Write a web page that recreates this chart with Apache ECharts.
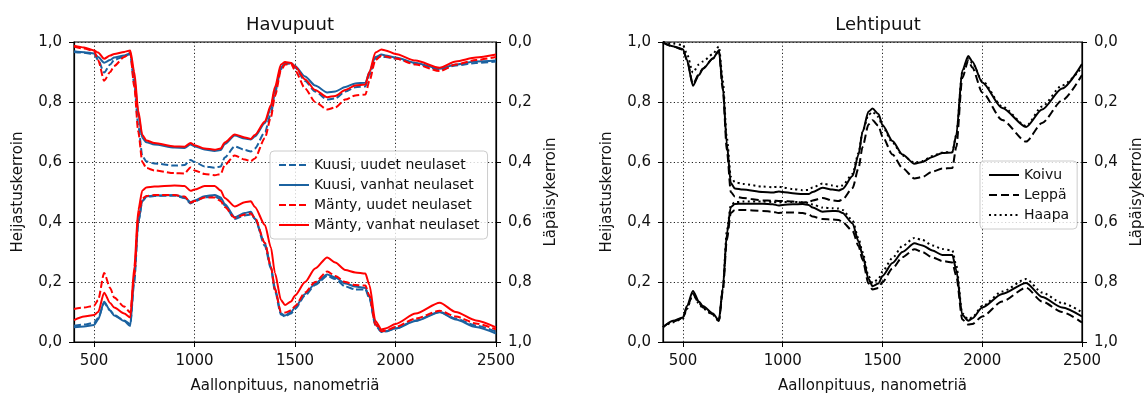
<!DOCTYPE html>
<html><head><meta charset="utf-8">
<script src="https://cdn.jsdelivr.net/npm/echarts@6/dist/echarts.min.js"></script>
<style>html,body{margin:0;padding:0;background:#fff}#c{width:1146px;height:399px}</style>
</head><body><div id="c"></div><script>
// Wavelengths (nm)
const WL = [400,450,500,520,550,580,600,650,680,700,720,740,760,800,900,950,980,1000,1050,1100,1130,1150,1200,1250,1280,1300,1350,1380,1400,1430,1450,1480,1500,1550,1600,1660,1700,1750,1800,1850,1870,1900,1930,1950,2000,2100,2220,2300,2400,2500];
const X_TICKS = [500,1000,1500,2000,2500];
const TITLES = ['Havupuut','Lehtipuut'];
const X_NAME = 'Aallonpituus, nanometriä';
const Y_NAME_L = 'Heijastuskerroin';
const Y_NAME_R = 'Läpäisykerroin';

// Havupuut (conifers)
const HAVU_NAMES = ['Kuusi, uudet neulaset','Kuusi, vanhat neulaset','Mänty, uudet neulaset','Mänty, vanhat neulaset'];
// reflectance
const KU_R = [0.054,0.058,0.064,0.08,0.13,0.105,0.09,0.072,0.06,0.2,0.4,0.47,0.483,0.487,0.488,0.48,0.462,0.468,0.482,0.485,0.476,0.455,0.41,0.422,0.425,0.412,0.32,0.245,0.17,0.092,0.085,0.095,0.11,0.155,0.19,0.22,0.21,0.185,0.175,0.175,0.145,0.055,0.033,0.035,0.045,0.072,0.1,0.078,0.055,0.035];
const KV_R = [0.049,0.052,0.057,0.075,0.134,0.105,0.088,0.07,0.053,0.22,0.4,0.47,0.485,0.488,0.49,0.482,0.466,0.472,0.486,0.49,0.482,0.46,0.416,0.43,0.434,0.41,0.33,0.25,0.18,0.095,0.088,0.1,0.115,0.16,0.195,0.225,0.215,0.195,0.185,0.18,0.15,0.06,0.035,0.036,0.045,0.07,0.099,0.075,0.05,0.028];
const MU_R = [0.11,0.115,0.121,0.14,0.23,0.18,0.148,0.118,0.098,0.22,0.42,0.478,0.487,0.49,0.49,0.485,0.465,0.47,0.482,0.482,0.47,0.45,0.414,0.425,0.428,0.415,0.33,0.25,0.175,0.1,0.098,0.105,0.12,0.165,0.2,0.235,0.22,0.2,0.19,0.188,0.155,0.058,0.036,0.038,0.05,0.078,0.104,0.085,0.062,0.042];
const MV_R = [0.073,0.085,0.09,0.1,0.164,0.13,0.115,0.095,0.082,0.25,0.44,0.505,0.515,0.518,0.522,0.52,0.504,0.508,0.52,0.52,0.505,0.48,0.452,0.466,0.469,0.45,0.39,0.315,0.23,0.14,0.123,0.135,0.155,0.2,0.245,0.282,0.265,0.24,0.232,0.228,0.19,0.07,0.042,0.045,0.06,0.095,0.131,0.1,0.072,0.049];
// transmittance
const KU_T = [0.033,0.036,0.04,0.06,0.102,0.075,0.06,0.048,0.04,0.14,0.28,0.38,0.398,0.405,0.412,0.41,0.393,0.4,0.415,0.419,0.415,0.385,0.348,0.36,0.365,0.355,0.3,0.24,0.17,0.09,0.073,0.072,0.085,0.13,0.165,0.192,0.188,0.165,0.151,0.148,0.11,0.055,0.048,0.05,0.055,0.072,0.092,0.078,0.07,0.065];
const KV_T = [0.031,0.034,0.038,0.05,0.069,0.06,0.052,0.045,0.038,0.12,0.24,0.32,0.334,0.342,0.352,0.353,0.342,0.348,0.358,0.363,0.36,0.34,0.312,0.322,0.325,0.315,0.27,0.22,0.16,0.085,0.07,0.07,0.08,0.115,0.145,0.168,0.165,0.15,0.138,0.136,0.1,0.05,0.042,0.045,0.052,0.07,0.089,0.075,0.065,0.062];
const MU_T = [0.015,0.022,0.03,0.06,0.129,0.1,0.08,0.05,0.035,0.15,0.3,0.4,0.42,0.428,0.437,0.438,0.418,0.428,0.44,0.444,0.44,0.41,0.378,0.392,0.397,0.388,0.32,0.25,0.18,0.095,0.075,0.072,0.095,0.155,0.2,0.225,0.218,0.192,0.178,0.175,0.13,0.06,0.045,0.048,0.055,0.075,0.097,0.075,0.06,0.05];
const MV_T = [0.012,0.018,0.028,0.035,0.056,0.045,0.04,0.033,0.028,0.1,0.23,0.31,0.328,0.337,0.348,0.349,0.337,0.344,0.355,0.359,0.355,0.335,0.308,0.318,0.323,0.31,0.265,0.21,0.15,0.075,0.067,0.07,0.082,0.125,0.16,0.184,0.18,0.16,0.145,0.142,0.1,0.035,0.025,0.028,0.04,0.062,0.086,0.065,0.052,0.042];

// Lehtipuut (broadleaf)
const LEHTI_NAMES = ['Koivu','Leppä','Haapa'];
const KO_R = [0.049,0.071,0.082,0.12,0.17,0.135,0.12,0.095,0.072,0.18,0.36,0.45,0.46,0.461,0.461,0.459,0.455,0.457,0.459,0.46,0.457,0.448,0.434,0.437,0.436,0.43,0.395,0.335,0.29,0.21,0.186,0.195,0.22,0.263,0.3,0.329,0.322,0.305,0.29,0.29,0.24,0.09,0.071,0.078,0.115,0.16,0.197,0.15,0.115,0.085];
const LE_R = [0.05,0.068,0.08,0.115,0.16,0.13,0.115,0.092,0.07,0.17,0.34,0.43,0.44,0.44,0.437,0.434,0.43,0.431,0.432,0.43,0.425,0.418,0.41,0.408,0.407,0.4,0.37,0.32,0.275,0.195,0.175,0.18,0.2,0.245,0.283,0.309,0.3,0.282,0.27,0.265,0.22,0.075,0.058,0.06,0.085,0.135,0.181,0.135,0.1,0.065];
const HA_R = [0.05,0.066,0.078,0.11,0.162,0.128,0.112,0.09,0.07,0.18,0.37,0.455,0.466,0.468,0.468,0.467,0.465,0.467,0.467,0.466,0.464,0.458,0.448,0.446,0.445,0.44,0.405,0.345,0.3,0.22,0.197,0.21,0.235,0.28,0.32,0.347,0.34,0.322,0.31,0.305,0.255,0.095,0.075,0.082,0.12,0.168,0.21,0.165,0.13,0.099];
const KO_T = [0.001,0.014,0.024,0.06,0.146,0.11,0.09,0.055,0.028,0.15,0.34,0.47,0.488,0.492,0.5,0.502,0.498,0.5,0.504,0.507,0.507,0.5,0.486,0.492,0.495,0.49,0.447,0.375,0.3,0.232,0.222,0.24,0.277,0.33,0.375,0.406,0.4,0.383,0.37,0.368,0.31,0.095,0.047,0.065,0.135,0.22,0.283,0.225,0.155,0.073];
const LE_T = [0.002,0.015,0.025,0.06,0.14,0.107,0.088,0.055,0.03,0.16,0.36,0.5,0.515,0.52,0.528,0.529,0.53,0.53,0.532,0.535,0.534,0.528,0.52,0.528,0.53,0.525,0.487,0.42,0.35,0.275,0.261,0.28,0.315,0.375,0.42,0.455,0.45,0.432,0.422,0.42,0.35,0.12,0.062,0.085,0.168,0.26,0.332,0.27,0.195,0.11];
const HA_T = [0,0.005,0.01,0.04,0.102,0.075,0.065,0.04,0.015,0.13,0.32,0.45,0.467,0.473,0.482,0.484,0.482,0.485,0.49,0.494,0.493,0.485,0.472,0.478,0.482,0.478,0.44,0.37,0.3,0.243,0.233,0.25,0.282,0.335,0.378,0.402,0.397,0.38,0.368,0.367,0.31,0.1,0.055,0.07,0.13,0.215,0.28,0.215,0.145,0.085];

const BLUE = '#1b62a0', RED = '#ff0000', BLACK = '#000000';
const DASH = [7,3], DASH2 = [8,4], DOT = [2,3.3];
const FONT = 'DejaVu Sans';
const fmt = v => v.toFixed(1).replace('.', ',');

function mk(name, arr, xi, yi, color, dash) {
  return {
    type: 'line', name: name, xAxisIndex: xi, yAxisIndex: yi,
    data: WL.map((w, i) => [w, arr[i]]),
    symbol: 'none', showSymbol: false, smooth: 0.25, smoothMonotone: 'x',
    lineStyle: { color: color, width: 2, type: dash },
    itemStyle: { color: color }, animation: false, clip: true
  };
}

const gridLine = { show: true, lineStyle: { color: '#222', width: 1, type: [1.2, 2.4] } };
const axisTextStyle = { color: '#111', fontSize: 15, fontFamily: FONT };

function xAx(gi) {
  return {
    type: 'value', gridIndex: gi, min: 400, max: 2500,
    name: X_NAME, nameLocation: 'middle', nameGap: 37, nameMoveOverlap: false,
    nameTextStyle: { color: '#111', fontSize: 15, fontFamily: FONT },
    axisLine: { show: true, onZero: false, lineStyle: { color: '#000', width: 1.2 } },
    axisTick: { show: true, inside: false, length: 5, lineStyle: { color: '#000' }, customValues: X_TICKS },
    axisLabel: Object.assign({ margin: 12, customValues: X_TICKS, formatter: v => String(v) }, axisTextStyle),
    splitLine: gridLine
  };
}
function yAx(gi, right) {
  return {
    type: 'value', gridIndex: gi, min: 0, max: 1, interval: 0.2,
    position: right ? 'right' : 'left', inverse: !!right,
    name: right ? Y_NAME_R : Y_NAME_L, nameLocation: 'middle', nameGap: 48, nameRotate: 90, nameMoveOverlap: false,
    nameTextStyle: { color: '#111', fontSize: 15, fontFamily: FONT },
    axisLine: { show: true, onZero: false, lineStyle: { color: '#000', width: 1.2 } },
    axisTick: { show: true, inside: false, length: 5, lineStyle: { color: '#000' } },
    axisLabel: Object.assign({ margin: 12, formatter: fmt }, axisTextStyle),
    splitLine: right ? { show: false } : gridLine
  };
}

const legendBase = {
  orient: 'vertical', itemWidth: 30, itemHeight: 14, itemGap: 6,
  padding: [7, 8], borderColor: '#cccccc', borderWidth: 1, borderRadius: 4,
  backgroundColor: 'rgba(255,255,255,0.8)',
  itemStyle: { opacity: 0 },
  textStyle: { color: '#111', fontSize: 14, fontFamily: FONT }
};

const series = [
  mk(HAVU_NAMES[0], KU_R, 0, 0, BLUE, DASH), mk(HAVU_NAMES[0], KU_T, 0, 1, BLUE, DASH),
  mk(HAVU_NAMES[1], KV_R, 0, 0, BLUE, 'solid'), mk(HAVU_NAMES[1], KV_T, 0, 1, BLUE, 'solid'),
  mk(HAVU_NAMES[2], MU_R, 0, 0, RED, DASH), mk(HAVU_NAMES[2], MU_T, 0, 1, RED, DASH),
  mk(HAVU_NAMES[3], MV_R, 0, 0, RED, 'solid'), mk(HAVU_NAMES[3], MV_T, 0, 1, RED, 'solid'),
  mk(LEHTI_NAMES[0], KO_R, 1, 2, BLACK, 'solid'), mk(LEHTI_NAMES[0], KO_T, 1, 3, BLACK, 'solid'),
  mk(LEHTI_NAMES[1], LE_R, 1, 2, BLACK, DASH2), mk(LEHTI_NAMES[1], LE_T, 1, 3, BLACK, DASH2),
  mk(LEHTI_NAMES[2], HA_R, 1, 2, BLACK, DOT), mk(LEHTI_NAMES[2], HA_T, 1, 3, BLACK, DOT)
];

const chart = echarts.init(document.getElementById('c'), null, { renderer: 'canvas' });
chart.setOption({
  animation: false,
  backgroundColor: '#fff',
  title: [
    { text: TITLES[0], left: 285, top: 11, textAlign: 'center', textStyle: { color: '#111', fontSize: 18, fontWeight: 'normal', fontFamily: FONT } },
    { text: TITLES[1], left: 873, top: 11, textAlign: 'center', textStyle: { color: '#111', fontSize: 18, fontWeight: 'normal', fontFamily: FONT } }
  ],
  grid: [
    { left: 74, top: 42, width: 422, height: 305, show: true, borderColor: '#000', borderWidth: 1.2, backgroundColor: 'transparent' },
    { left: 663, top: 42, width: 420, height: 305, show: true, borderColor: '#000', borderWidth: 1.2, backgroundColor: 'transparent' }
  ],
  xAxis: [xAx(0), xAx(1)],
  yAxis: [yAx(0, false), yAx(0, true), yAx(1, false), yAx(1, true)],
  legend: [
    Object.assign({ data: HAVU_NAMES, left: 270, top: 151 }, legendBase),
    Object.assign({ data: LEHTI_NAMES, left: 980, top: 161 }, legendBase)
  ],
  series: series
});
</script></body></html>
